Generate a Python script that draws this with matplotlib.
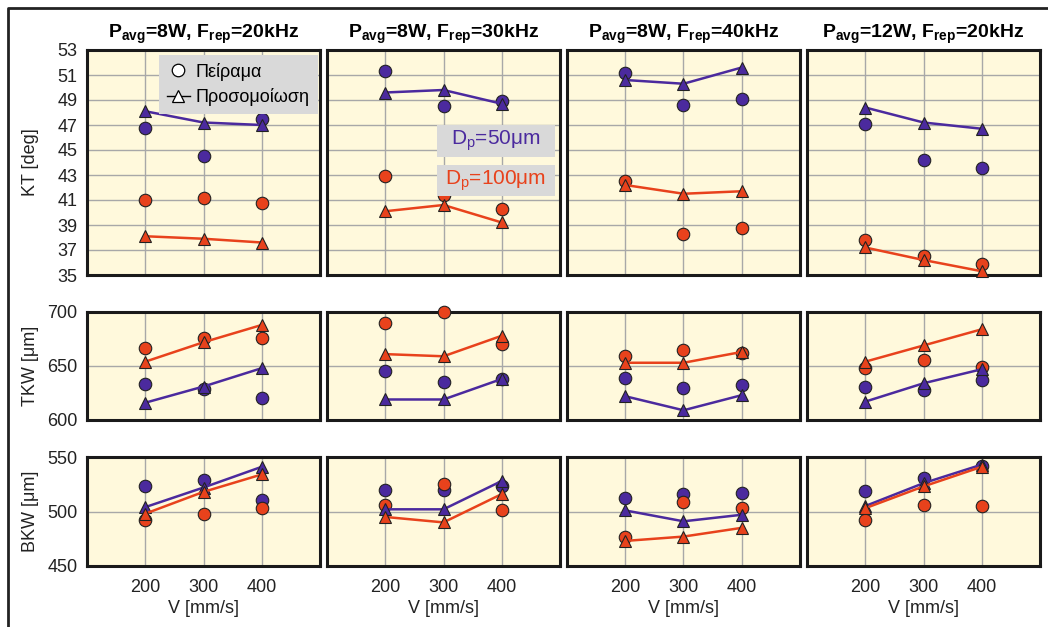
import matplotlib.pyplot as plt
from matplotlib.lines import Line2D
from matplotlib.patches import Rectangle

plt.rcParams['font.family'] = ['Liberation Sans', 'DejaVu Sans']
plt.rcParams['mathtext.fontset'] = 'custom'
plt.rcParams['mathtext.rm'] = 'Liberation Sans'
plt.rcParams['mathtext.it'] = 'Liberation Sans'
plt.rcParams['mathtext.bf'] = 'Liberation Sans:bold'

# data: one list per panel column (8W/20kHz, 8W/30kHz, 8W/40kHz, 12W/20kHz)
V = [200, 300, 400]
titles = [r'$\mathbf{P_{avg}}$=8W, $\mathbf{F_{rep}}$=20kHz',
          r'$\mathbf{P_{avg}}$=8W, $\mathbf{F_{rep}}$=30kHz',
          r'$\mathbf{P_{avg}}$=8W, $\mathbf{F_{rep}}$=40kHz',
          r'$\mathbf{P_{avg}}$=12W, $\mathbf{F_{rep}}$=20kHz']

kt_exp_50 = [[46.8, 44.5, 47.5], [51.3, 48.5, 48.9], [51.2, 48.6, 49.1], [47.1, 44.2, 43.6]]
kt_sim_50 = [[48.1, 47.2, 47.0], [49.6, 49.8, 48.7], [50.6, 50.3, 51.6], [48.4, 47.2, 46.7]]
kt_exp_100 = [[41.0, 41.2, 40.8], [42.9, 41.4, 40.3], [42.5, 38.3, 38.8], [37.8, 36.5, 35.9]]
kt_sim_100 = [[38.1, 37.9, 37.6], [40.1, 40.6, 39.2], [42.2, 41.5, 41.7], [37.2, 36.2, 35.3]]

tkw_exp_50 = [[633, 629, 620], [645, 635, 638], [639, 630, 632], [631, 628, 637]]
tkw_sim_50 = [[616, 631, 648], [619, 619, 638], [622, 609, 623], [617, 634, 647]]
tkw_exp_100 = [[667, 676, 676], [690, 700, 670], [659, 665, 662], [648, 656, 649]]
tkw_sim_100 = [[654, 672, 688], [661, 659, 678], [653, 653, 663], [654, 669, 684]]

bkw_exp_50 = [[523, 529, 511], [520, 520, 523], [512, 516, 517], [519, 531, 542]]
bkw_sim_50 = [[504, 522, 541], [502, 502, 528], [501, 491, 497], [505, 526, 543]]
bkw_exp_100 = [[492, 498, 503], [506, 525, 501], [477, 509, 503], [492, 506, 505]]
bkw_sim_100 = [[498, 518, 534], [495, 490, 516], [473, 477, 485], [503, 523, 541]]

rows = [
    ('KT [deg]', (35, 53), list(range(35, 54, 2)), kt_exp_50, kt_sim_50, kt_exp_100, kt_sim_100),
    ('TKW [μm]', (600, 700), [600, 650, 700], tkw_exp_50, tkw_sim_50, tkw_exp_100, tkw_sim_100),
    ('BKW [μm]', (450, 550), [450, 500, 550], bkw_exp_50, bkw_sim_50, bkw_exp_100, bkw_sim_100),
]

PURPLE = '#4b2a9e'
RED = '#e8421c'
BG = '#fff9dc'
GREY_BOX = '#d9d9d9'
FS = 13

W, H = 1048, 627
fig = plt.figure(figsize=(W / 100, H / 100), dpi=100)

col_left = [87, 327, 567, 807]
col_w = 233
row_px = [(50, 275), (312, 420), (457, 566)]

axes = []
for r, (ylabel, ylim, yticks, e50, s50, e100, s100) in enumerate(rows):
    top, bot = row_px[r]
    row_axes = []
    for c in range(4):
        ax = fig.add_axes([col_left[c] / W, 1 - bot / H, col_w / W, (bot - top) / H])
        ax.set_facecolor(BG)
        ax.set_xlim(100, 500)
        ax.set_ylim(*ylim)
        ax.set_xticks(V)
        ax.set_yticks(yticks)
        ax.grid(True, color='#a8a8a8', lw=1)
        ax.set_axisbelow(True)
        for sp in ax.spines.values():
            sp.set_linewidth(2.2)
            sp.set_color('#1a1a1a')
        ax.tick_params(length=0, labelsize=FS, pad=7, colors='#222')
        ax.tick_params(axis='x', pad=9)
        if c > 0:
            ax.tick_params(labelleft=False)
        else:
            ax.set_ylabel(ylabel, fontsize=FS, color='#222')
            ax.yaxis.set_label_coords(-0.205, 0.5)
        if r < 2:
            ax.tick_params(labelbottom=False)
        else:
            ax.set_xlabel('V [mm/s]', fontsize=FS, color='#222', labelpad=3)
        if r == 0:
            ax.set_title(titles[c], fontsize=14, fontweight='bold', pad=9)

        mk = dict(ms=9, mec='#222', mew=0.8, clip_on=False)
        ax.plot(V, e50[c], 'o', ls='none', color=PURPLE, zorder=4, **mk)
        ax.plot(V, e100[c], 'o', ls='none', color=RED, zorder=4, **mk)
        ax.plot(V, s50[c], '-^', color=PURPLE, lw=1.8, zorder=5, **mk)
        ax.plot(V, s100[c], '-^', color=RED, lw=1.8, zorder=5, **mk)
        row_axes.append(ax)
    axes.append(row_axes)

# legend
handles = [
    Line2D([], [], marker='o', ls='none', mfc='white', mec='black', ms=9, mew=0.9),
    Line2D([], [], marker='^', color='black', lw=1, mfc='white', mec='black', ms=9, mew=0.9),
]
leg = axes[0][0].legend(handles, ['Πείραμα', 'Προσομοίωση'], loc='upper right',
                        bbox_to_anchor=(0.99, 0.98), fontsize=13, facecolor=GREY_BOX,
                        edgecolor='none', framealpha=1, fancybox=False,
                        handlelength=1.3, handletextpad=0.3, borderpad=0.45,
                        labelspacing=0.4, borderaxespad=0)
leg.set_zorder(10)

# Dp labels
ax2 = axes[0][1]
for (y0, y1), label, color in [((0.524, 0.667), 'D$_p$=50μm', PURPLE),
                               ((0.351, 0.489), 'D$_p$=100μm', RED)]:
    ax2.add_patch(Rectangle((0.472, y0), 0.507, y1 - y0, transform=ax2.transAxes,
                            facecolor=GREY_BOX, edgecolor='none', zorder=6))
    ax2.text(0.725, (y0 + y1) / 2, label, transform=ax2.transAxes, color=color,
             fontsize=15, ha='center', va='center', zorder=7)

# outer frame (top and left edges)
fig.add_artist(Line2D([7.5 / W, 7.5 / W, 1], [0, 1 - 7.5 / H, 1 - 7.5 / H],
                      transform=fig.transFigure, color='#222', lw=2))

fig.savefig('out.png', dpi=100)
